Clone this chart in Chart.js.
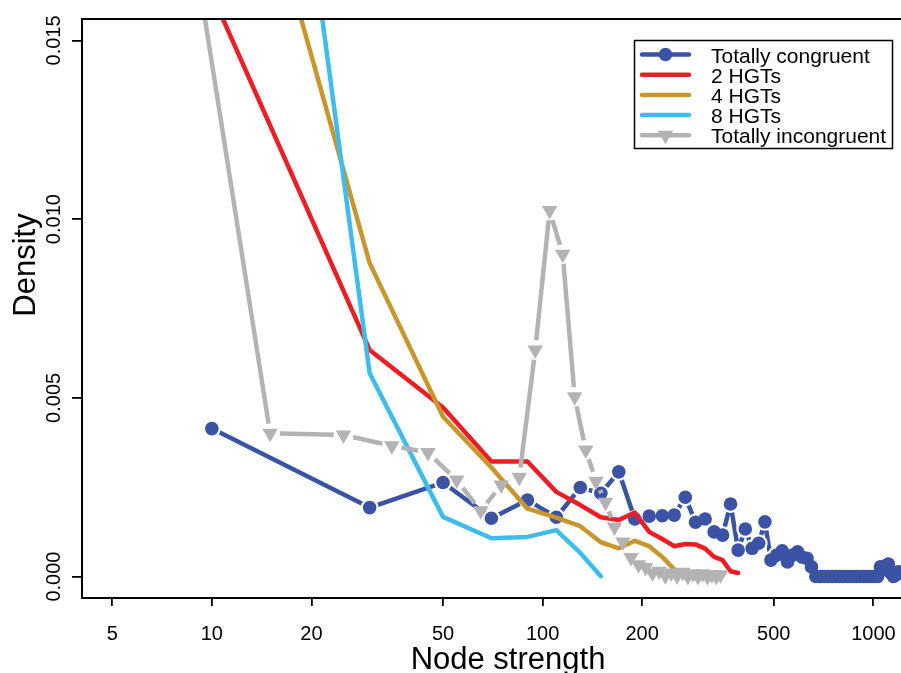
<!DOCTYPE html>
<html>
<head>
<meta charset="utf-8">
<script src="https://cdn.jsdelivr.net/npm/chart.js@4.4.1/dist/chart.umd.min.js"></script>
<style>
  html, body { margin: 0; padding: 0; background: #fff; overflow: hidden; }
  #box { width: 901px; height: 673px; position: relative; }
</style>
</head>
<body>
<div id="box"><canvas id="grafico"></canvas></div>
<script>
// valores
var seriesNames = ['Totally congruent', '2 HGTs', '4 HGTs', '8 HGTs', 'Totally incongruent'];
var seriesColors = ['#3A53A4', '#EE1D24', '#C9962B', '#3EBDEC', '#B3B3B3'];

var congruentX = [10, 30, 50, 70, 90, 110, 130, 150, 170, 190, 210, 230, 250, 270, 290, 310, 330, 350, 370, 390,
  410, 430, 450, 470, 490, 510, 530, 550, 570, 590, 610, 630, 650,
  670, 690, 710, 730, 750, 770, 790, 810, 830, 850, 870, 890, 910, 930, 950, 970, 990, 1010, 1030,
  1050, 1070, 1090, 1110, 1130, 1150, 1170, 1190, 1210];
var congruentY = [0.00414, 0.00193, 0.00263, 0.00163, 0.00214, 0.00166, 0.00249, 0.00233, 0.00293, 0.00161,
  0.00169, 0.00170, 0.00172, 0.00222, 0.00152, 0.00161, 0.00125, 0.00116, 0.00203, 0.00074,
  0.00133, 0.00079, 0.00093, 0.00153, 0.00046, 0.00060, 0.00072, 0.00041, 0.00060, 0.00069, 0.00054, 0.00051, 0.00027,
  0, 0, 0, 0, 0, 0, 0, 0, 0, 0, 0, 0, 0, 0, 0, 0, 0, 0, 0,
  0.00027, 0.00020, 0.00030, 0.00035, 0.00010, 0, 0.00005, 0.00013, 0.00010];

var hgt2X = [10, 30, 50, 70, 90, 110, 130, 150, 170, 190, 210, 230, 250, 270, 290, 310, 330, 350, 370, 390];
var hgt2Y = [0.0163, 0.00634, 0.00473, 0.00322, 0.00322, 0.00237, 0.00200, 0.00166, 0.00158, 0.00179,
  0.00125, 0.00105, 0.00085, 0.00091, 0.00090, 0.00078, 0.00055, 0.00046, 0.00015, 0.00010];

var hgt4X = [10, 30, 50, 70, 90, 110, 130, 150, 170, 190, 210, 230, 250];
var hgt4Y = [0.0245, 0.00877, 0.00447, 0.00305, 0.00190, 0.00165, 0.00141, 0.00096, 0.00079, 0.00100,
  0.00085, 0.00055, 0.00020];

var hgt8X = [10, 30, 50, 70, 90, 110, 130, 150];
var hgt8Y = [0.0387, 0.00569, 0.00167, 0.00107, 0.00111, 0.00130, 0.00066, 0.00001];

var incongruentX = [5, 15, 25, 35, 45, 55, 65, 75, 85, 95, 105, 115, 125, 135, 145, 155, 165, 175, 185, 195,
  205, 215, 225, 235, 245, 255, 265, 275, 285, 295, 305, 315, 325, 335, 345];
var incongruentY = [0.0321, 0.00401, 0.00396, 0.00366, 0.00347, 0.00270, 0.00184, 0.00256, 0.00278, 0.00634,
  0.01024, 0.00902, 0.00503, 0.00354, 0.00267, 0.00208, 0.00139, 0.00097, 0.00053, 0.00033,
  0.00025, 0.00010, 0.00015, 0.00002, 0.00010, 0.00002, 0.00012, 0.0, 0.00008, 0.0, 0.00008, 0.0, 0.00005, 0.0, 0.00005];

var xTicks = [5, 10, 20, 50, 100, 200, 500, 1000];
var yTicks = [0, 0.005, 0.010, 0.015];
var yTickLabels = ['0.000', '0.005', '0.010', '0.015'];
var xTitle = 'Node strength';
var yTitle = 'Density';

var fonte = '"Liberation Sans", Arial, Helvetica, sans-serif';

function juntar(xs, ys) {
  var pts = [];
  for (var i = 0; i < xs.length; i++) {
    pts.push({ x: xs[i], y: ys[i] });
  }
  return pts;
}

function linha(dados, cor, ordem, extra) {
  var ds = {
    data: dados,
    borderColor: cor,
    backgroundColor: cor,
    borderWidth: 4.5,
    borderCapStyle: 'round',
    borderJoinStyle: 'round',
    pointRadius: 0,
    tension: 0,
    clip: 0,
    order: ordem
  };
  for (var k in extra) ds[k] = extra[k];
  return ds;
}

function pontos(dados, cor, ordem, estilo, raio) {
  return {
    data: dados,
    showLine: false,
    pointStyle: estilo,
    pointRadius: raio,
    pointRotation: estilo == 'triangle' ? 180 : 0,
    pointBackgroundColor: cor,
    pointBorderWidth: 0,
    borderColor: cor,
    backgroundColor: cor,
    clip: 0,
    order: ordem
  };
}

// linhas do tipo "b" do R: corta a linha perto de cada ponto
var gapPlugin = {
  id: 'gaps',
  beforeDatasetDraw: function (chart, args) {
    var ds = chart.data.datasets[args.index];
    if (!ds.gap) return;
    var ctx = chart.ctx;
    ctx.save();
    args.meta.data.forEach(function (pt) {
      ctx.beginPath();
      ctx.rect(0, 0, chart.width, chart.height);
      ctx.moveTo(pt.x + ds.gap, pt.y);
      ctx.arc(pt.x, pt.y, ds.gap, 0, Math.PI * 2);
      ctx.clip('evenodd');
    });
  },
  afterDatasetDraw: function (chart, args) {
    if (chart.data.datasets[args.index].gap) chart.ctx.restore();
  }
};

var decoPlugin = {
  id: 'deco',
  afterDraw: function (chart) {
    var ctx = chart.ctx;
    var a = chart.chartArea;
    var sx = chart.scales.x;
    var sy = chart.scales.y;
    ctx.save();

    // caixa (sem o lado direito, que fica fora da imagem)
    ctx.strokeStyle = '#000';
    ctx.lineWidth = 2;
    ctx.beginPath();
    ctx.moveTo(a.right + 2, a.top);
    ctx.lineTo(a.left, a.top);
    ctx.lineTo(a.left, a.bottom);
    ctx.lineTo(a.right + 2, a.bottom);
    ctx.stroke();

    ctx.fillStyle = '#000';
    // rótulos do eixo x
    ctx.font = '20px ' + fonte;
    ctx.textAlign = 'center';
    ctx.textBaseline = 'alphabetic';
    for (var i = 0; i < xTicks.length; i++) {
      ctx.fillText(String(xTicks[i]), sx.getPixelForValue(xTicks[i]), 640);
    }
    // rótulos do eixo y (girados)
    for (var j = 0; j < yTicks.length; j++) {
      ctx.save();
      ctx.translate(60, sy.getPixelForValue(yTicks[j]));
      ctx.rotate(-Math.PI / 2);
      ctx.fillText(yTickLabels[j], 0, 0);
      ctx.restore();
    }
    // títulos
    ctx.font = '31px ' + fonte;
    ctx.fillText(xTitle, 508, 669);
    ctx.save();
    ctx.translate(35, 265);
    ctx.rotate(-Math.PI / 2);
    ctx.fillText(yTitle, 0, 0);
    ctx.restore();

    // legenda
    var lx = 634.5, ly = 40.5, lw = 258, lh = 108;
    ctx.fillStyle = '#fff';
    ctx.fillRect(lx, ly, lw, lh);
    ctx.strokeStyle = '#000';
    ctx.lineWidth = 1.5;
    ctx.strokeRect(lx, ly, lw, lh);
    ctx.font = '21px ' + fonte;
    ctx.textAlign = 'left';
    for (var s = 0; s < seriesNames.length; s++) {
      var y = 54.5 + s * 20.2;
      ctx.strokeStyle = seriesColors[s];
      ctx.lineWidth = 4.5;
      ctx.lineCap = 'round';
      ctx.beginPath();
      ctx.moveTo(642, y);
      ctx.lineTo(689, y);
      ctx.stroke();
      ctx.fillStyle = seriesColors[s];
      if (s == 0) {
        ctx.beginPath();
        ctx.arc(665.5, y, 6.8, 0, Math.PI * 2);
        ctx.fill();
      }
      if (s == 4) {
        var r = 9;
        ctx.beginPath();
        ctx.moveTo(665.5, y + r);
        ctx.lineTo(665.5 - r * 0.866, y - r / 2);
        ctx.lineTo(665.5 + r * 0.866, y - r / 2);
        ctx.closePath();
        ctx.fill();
      }
      ctx.fillStyle = '#000';
      ctx.fillText(seriesNames[s], 711, y + 8);
    }
    ctx.restore();
  }
};

var dadosCongruent = juntar(congruentX, congruentY);
var dadosIncongruent = juntar(incongruentX, incongruentY);

var config = {
  type: 'line',
  data: {
    datasets: [
      linha(dadosCongruent, seriesColors[0], 10, { gap: 9 }),
      pontos(dadosCongruent, seriesColors[0], 9, 'circle', 6.8),
      linha(juntar(hgt2X, hgt2Y), seriesColors[1], 8, {}),
      linha(juntar(hgt4X, hgt4Y), seriesColors[2], 7, {}),
      linha(juntar(hgt8X, hgt8Y), seriesColors[3], 6, {}),
      linha(dadosIncongruent, seriesColors[4], 5, { gap: 10 }),
      pontos(dadosIncongruent, seriesColors[4], 4, 'triangle', 9)
    ]
  },
  options: {
    responsive: true,
    maintainAspectRatio: false,
    devicePixelRatio: 1,
    animation: false,
    events: [],
    layout: { autoPadding: false, padding: { top: 19, left: 0, right: 0, bottom: 0 } },
    plugins: {
      legend: { display: false },
      tooltip: { enabled: false },
      title: { display: false }
    },
    scales: {
      x: {
        type: 'logarithmic',
        min: 4.05,
        max: 1212,
        afterBuildTicks: function (s) { s.ticks = xTicks.map(function (v) { return { value: v }; }); },
        afterFit: function (s) { s.height = 75; s.paddingLeft = 0; s.paddingRight = 0; },
        ticks: { display: false },
        border: { display: false },
        grid: { drawOnChartArea: false, drawTicks: true, tickLength: 8, color: '#000', lineWidth: 1.8 }
      },
      y: {
        type: 'linear',
        min: -0.0006,
        max: 0.0156,
        afterBuildTicks: function (s) { s.ticks = yTicks.map(function (v) { return { value: v }; }); },
        afterFit: function (s) { s.width = 82; s.paddingTop = 0; s.paddingBottom = 0; },
        ticks: { display: false },
        border: { display: false },
        grid: { drawOnChartArea: false, drawTicks: true, tickLength: 10, color: '#000', lineWidth: 1.8 }
      }
    }
  },
  plugins: [gapPlugin, decoPlugin]
};

var myChart = new Chart(document.getElementById('grafico'), config);
</script>
</body>
</html>
